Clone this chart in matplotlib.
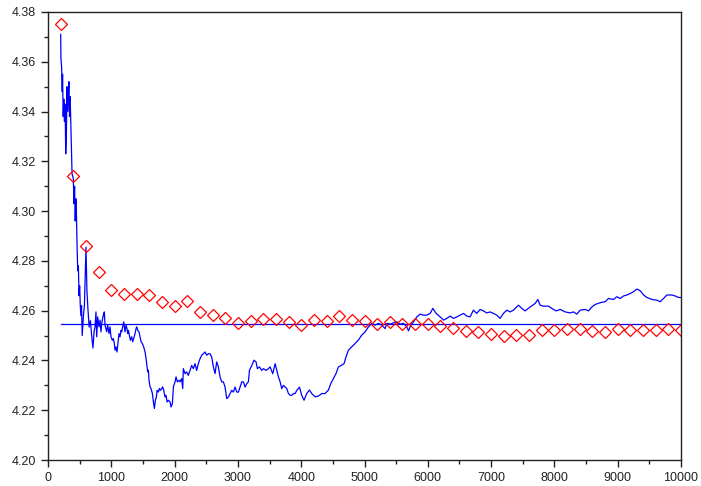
import numpy as np
import matplotlib
matplotlib.use("Agg")
import matplotlib.pyplot as plt
from matplotlib.ticker import MultipleLocator, FormatStrFormatter

plt.rcParams['font.family'] = ['Liberation Sans', 'DejaVu Sans']

# running estimate (blue line) as (x, y) pairs
run_early = [(200, 4.371), (205, 4.361), (215, 4.358), (225, 4.348), (230, 4.355),
             (240, 4.338), (250, 4.345), (260, 4.336), (270, 4.343), (280, 4.323),
             (290, 4.330), (300, 4.350), (310, 4.340), (320, 4.345), (330, 4.352),
             (340, 4.338), (350, 4.346), (360, 4.336), (380, 4.315), (400, 4.313),
             (410, 4.303), (420, 4.310), (430, 4.296), (440, 4.305), (450, 4.298),
             (460, 4.285), (470, 4.276), (480, 4.278), (490, 4.266), (500, 4.270),
             (510, 4.262), (520, 4.258), (530, 4.262), (540, 4.250), (560, 4.258),
             (575, 4.262), (600, 4.2855), (615, 4.268), (630, 4.261), (650, 4.2534),
             (670, 4.256), (690, 4.250), (710, 4.245), (730, 4.252)]

run_dip = [(743, 4.2535), (758, 4.2595), (769, 4.2495), (785, 4.2575), (806, 4.2535),
           (822, 4.2562), (837, 4.2515), (848, 4.2548), (874, 4.2582), (890, 4.2595),
           (901, 4.2542), (927, 4.2515), (943, 4.2542), (964, 4.2508), (980, 4.2535),
           (995, 4.2495), (1017, 4.2481), (1032, 4.2488), (1048, 4.2468), (1059, 4.2441),
           (1075, 4.2454), (1090, 4.2434), (1111, 4.2481), (1122, 4.2508), (1138, 4.2495),
           (1154, 4.2521), (1164, 4.2515), (1180, 4.2535), (1196, 4.2555), (1206, 4.2535),
           (1217, 4.2515), (1233, 4.2542), (1248, 4.2528), (1259, 4.2508), (1270, 4.2521),
           (1285, 4.2501), (1301, 4.2481), (1322, 4.2495), (1338, 4.2475), (1354, 4.2488),
           (1375, 4.2508), (1391, 4.2528), (1401, 4.2535), (1417, 4.2521), (1438, 4.2515),
           (1454, 4.2495), (1470, 4.2475), (1491, 4.2468), (1512, 4.2454), (1533, 4.2434),
           (1549, 4.2408), (1565, 4.2374), (1575, 4.2354), (1586, 4.2361), (1596, 4.2320),
           (1612, 4.2294), (1628, 4.2287), (1649, 4.2267), (1665, 4.2233), (1681, 4.2207),
           (1696, 4.2240), (1712, 4.2253), (1723, 4.2280), (1744, 4.2273), (1760, 4.2287),
           (1775, 4.2280), (1797, 4.2287), (1812, 4.2294), (1828, 4.2280), (1849, 4.2253),
           (1865, 4.2260), (1881, 4.2233), (1902, 4.2240), (1928, 4.2233), (1944, 4.2213),
           (1965, 4.2227), (1981, 4.2294), (2007, 4.2314), (2023, 4.2334), (2044, 4.2314),
           (2070, 4.2320)]

run_mid = [(2086, 4.2314), (2112, 4.2327), (2128, 4.2287), (2138, 4.2367), (2165, 4.2347),
           (2191, 4.2354), (2217, 4.2340), (2244, 4.2360), (2270, 4.2380), (2296, 4.2367),
           (2323, 4.2387), (2349, 4.2360), (2375, 4.2387), (2402, 4.2407), (2428, 4.2421),
           (2454, 4.2427), (2481, 4.2434), (2507, 4.2421), (2534, 4.2427), (2560, 4.2427),
           (2586, 4.2414), (2613, 4.2374), (2639, 4.2347), (2665, 4.2394), (2692, 4.2374),
           (2718, 4.2334), (2744, 4.2314), (2771, 4.2314), (2797, 4.2293), (2823, 4.2247),
           (2850, 4.2253), (2876, 4.2267), (2902, 4.2280), (2929, 4.2273), (2955, 4.2293),
           (2981, 4.2273), (3008, 4.2273), (3034, 4.2293), (3061, 4.2314), (3087, 4.2314),
           (3113, 4.2293), (3140, 4.2307), (3166, 4.2314), (3182, 4.2360), (3219, 4.2380),
           (3255, 4.2401), (3287, 4.2394), (3308, 4.2367), (3340, 4.2374), (3377, 4.2360),
           (3403, 4.2367), (3445, 4.2360), (3482, 4.2367), (3508, 4.2374), (3551, 4.2347),
           (3588, 4.2387), (3614, 4.2360), (3640, 4.2334), (3667, 4.2314), (3693, 4.2287),
           (3719, 4.2300), (3746, 4.2293), (3772, 4.2287), (3798, 4.2267), (3825, 4.2260),
           (3851, 4.2260), (3877, 4.2267), (3904, 4.2267), (3930, 4.2280), (3956, 4.2287),
           (3972, 4.2293)]

run_rise = [(4008, 4.226), (4045, 4.224), (4087, 4.2267), (4130, 4.2281), (4166, 4.2267),
            (4219, 4.2254), (4272, 4.2257), (4325, 4.2267), (4377, 4.2267), (4430, 4.2281),
            (4467, 4.2307), (4509, 4.2327), (4551, 4.2348), (4588, 4.2374), (4641, 4.2381),
            (4678, 4.2388), (4709, 4.2415), (4746, 4.2441), (4799, 4.2455), (4852, 4.2468),
            (4904, 4.2482), (4957, 4.2502), (5010, 4.2515), (5063, 4.2535), (5115, 4.2549),
            (5168, 4.2542), (5221, 4.2549), (5273, 4.2542), (5326, 4.2528), (5352, 4.2549),
            (5405, 4.2546), (5457, 4.2551), (5510, 4.2555), (5563, 4.2546), (5616, 4.2549),
            (5668, 4.2535), (5695, 4.2519), (5732, 4.2542), (5774, 4.2555), (5827, 4.2575),
            (5879, 4.2586), (5932, 4.2582), (5985, 4.2582), (6037, 4.2589), (6079, 4.2609),
            (6132, 4.2589), (6195, 4.2575), (6248, 4.2562), (6301, 4.2569), (6353, 4.2578),
            (6406, 4.2569), (6459, 4.2575), (6512, 4.2582), (6564, 4.2589), (6617, 4.2578),
            (6669, 4.2575)]

run_late = [(6720, 4.2602), (6773, 4.2589), (6826, 4.2605), (6879, 4.2599), (6932, 4.2591),
            (6984, 4.2595), (7037, 4.2589), (7090, 4.2582), (7142, 4.2569), (7195, 4.2589),
            (7248, 4.2602), (7300, 4.2595), (7353, 4.2602), (7432, 4.2622), (7485, 4.2609),
            (7537, 4.2599), (7617, 4.2615), (7696, 4.2629), (7738, 4.2645), (7775, 4.2622),
            (7827, 4.2618), (7906, 4.2618), (7959, 4.2609), (8028, 4.2599), (8091, 4.2605),
            (8170, 4.2595), (8249, 4.2591), (8302, 4.2595), (8354, 4.2586), (8407, 4.2602),
            (8486, 4.2605), (8539, 4.2599), (8592, 4.2615), (8644, 4.2625), (8723, 4.2632),
            (8802, 4.2636), (8855, 4.2649), (8934, 4.2645), (8987, 4.2656), (9040, 4.2649),
            (9092, 4.2659), (9145, 4.2663), (9198, 4.2669), (9250, 4.2676), (9303, 4.2687),
            (9356, 4.268), (9409, 4.2663), (9461, 4.2653), (9540, 4.2645), (9619, 4.2642),
            (9672, 4.2636), (9724, 4.2649), (9777, 4.2663), (9856, 4.2663), (9909, 4.2659),
            (9961, 4.2653), (10000, 4.2653)]

# reference level (horizontal line)
ref_level = 4.2546
ref_span = [200, 10000]

# red diamonds every 200
pts_x = list(range(200, 10001, 200))
pts_y = [4.375, 4.314, 4.2858, 4.2754, 4.2685, 4.2665, 4.2665, 4.2661, 4.2636,
         4.2619, 4.2640, 4.2593, 4.2583, 4.2570, 4.2551, 4.2559, 4.2565, 4.2565,
         4.2554, 4.2542, 4.2563, 4.2560, 4.2578, 4.2563, 4.2560, 4.2548, 4.2554,
         4.2545, 4.2548, 4.2545, 4.2538, 4.2531, 4.2520, 4.2513, 4.2508, 4.2499,
         4.2503, 4.2504, 4.2524, 4.2522, 4.2528, 4.2528, 4.2519, 4.2516, 4.2528,
         4.2524, 4.2524, 4.2522, 4.2528, 4.2524]

run = np.array(run_early + run_dip + run_mid + run_rise + run_late)

fig = plt.figure(figsize=(7.01, 4.86), dpi=100)
ax = fig.add_axes([48/701, 1 - 460/486, (681 - 48)/701, (460 - 12)/486])

ax.plot(run[:, 0], run[:, 1], color='blue', lw=0.9)
ax.plot(ref_span, [ref_level, ref_level], color='blue', lw=0.9)
ax.plot(pts_x, pts_y, linestyle='none', marker='D', markersize=5.8,
        mfc='none', mec='red', mew=0.9)

ax.set_xlim(0, 10000)
ax.set_ylim(4.20, 4.38)
ax.xaxis.set_major_locator(MultipleLocator(1000))
ax.xaxis.set_minor_locator(MultipleLocator(500))
ax.yaxis.set_major_locator(MultipleLocator(0.02))
ax.yaxis.set_minor_locator(MultipleLocator(0.01))
ax.yaxis.set_major_formatter(FormatStrFormatter('%.2f'))
ax.tick_params(which='both', direction='out', top=False, right=False,
               labelsize=9, colors='#222222')
ax.tick_params(which='major', length=5, width=1)
ax.tick_params(which='minor', length=3, width=1)
for s in ax.spines.values():
    s.set_linewidth(1)
    s.set_color('#222222')

fig.savefig('out.png', dpi=100)
